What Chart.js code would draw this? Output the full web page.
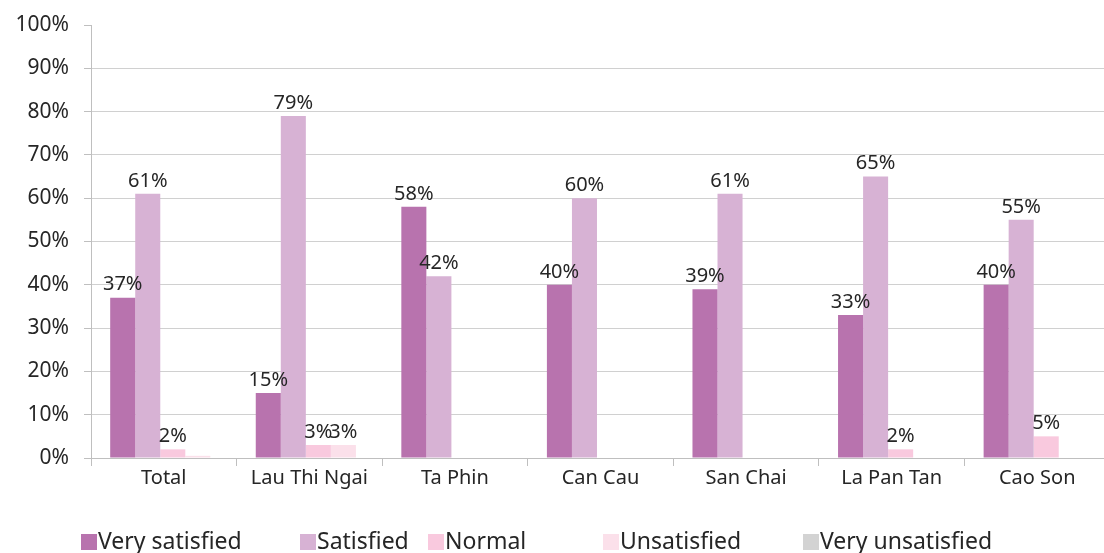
<!DOCTYPE html>
<html>
<head>
<meta charset="utf-8">
<script src="https://cdn.jsdelivr.net/npm/chart.js@4/dist/chart.umd.min.js"></script>
<style>
  html, body { margin: 0; padding: 0; background: #fff; overflow: hidden; }
  body { width: 1104px; height: 553px; position: relative; font-family: "Noto Sans", sans-serif; }
  #wrap { position: absolute; left: 0; top: 0; width: 1112px; height: 553px; }
  .leg { position: absolute; top: 528px; font-size: 23px; color: #262626; white-space: nowrap; line-height: 25px; }
  .leg span { display: inline-block; width: 16px; height: 16px; margin-right: 1px; vertical-align: -1px; }
</style>
</head>
<body>
<div id="wrap"><canvas id="satChart" width="1112" height="553"></canvas></div>
<div id="legend"></div>
<script>
const communes = ["Total", "Lau Thi Ngai", "Ta Phin", "Can Cau", "San Chai", "La Pan Tan", "Cao Son"];
const verySatisfied = [37, 15, 58, 40, 39, 33, 40];
const satisfied = [61, 79, 42, 60, 61, 65, 55];
const normal = [2, 3, 0, 0, 0, 2, 5];
const unsatisfied = [0.5, 3, 0, 0, 0, 0, 0];
const veryUnsatisfied = [0, 0, 0, 0, 0, 0, 0];
const yTicks = [0, 10, 20, 30, 40, 50, 60, 70, 80, 90, 100];

const seriesNames = ["Very satisfied", "Satisfied", "Normal", "Unsatisfied", "Very unsatisfied"];
const colors = ["#b873ae", "#d7b2d4", "#f9c9de", "#fbe0ea", "#d3d3d3"];
const legendLeft = [81, 300, 428, 603, 803];

const textColor = "#262626";
const fontFamily = "'Noto Sans', sans-serif";

// Excel draws the bar group a little right of the category centre
const groupShift = {
  id: "groupShift",
  afterDatasetsUpdate(chart) {
    chart.data.datasets.forEach((ds, i) => {
      chart.getDatasetMeta(i).data.forEach(bar => { bar.x += 9; });
    });
  }
};

// value labels above each bar
const barLabels = {
  id: "barLabels",
  afterDatasetsDraw(chart) {
    const ctx = chart.ctx;
    ctx.save();
    ctx.font = "20px " + fontFamily;
    ctx.fillStyle = textColor;
    ctx.textAlign = "center";
    ctx.textBaseline = "bottom";
    chart.data.datasets.forEach((ds, i) => {
      chart.getDatasetMeta(i).data.forEach((bar, j) => {
        const v = ds.data[j];
        if (v >= 1) ctx.fillText(Math.round(v) + "%", bar.x, bar.y - 3);
      });
    });
    ctx.restore();
  }
};

const allSeries = [verySatisfied, satisfied, normal, unsatisfied, veryUnsatisfied];

new Chart(document.getElementById("satChart"), {
  type: "bar",
  data: {
    labels: communes,
    datasets: allSeries.map((d, i) => ({
      label: seriesNames[i],
      data: d,
      backgroundColor: colors[i],
      borderWidth: 0,
      barPercentage: 1,
      categoryPercentage: 0.86
    }))
  },
  options: {
    responsive: false,
    animation: false,
    layout: { padding: { top: 25, right: 2, left: 0, bottom: 0 } },
    plugins: {
      legend: { display: false },
      tooltip: { enabled: false }
    },
    scales: {
      x: {
        grid: {
          offset: true,
          drawOnChartArea: false,
          tickLength: 8,
          color: "#bfbfbf"
        },
        border: { color: "#bfbfbf" },
        ticks: {
          color: textColor,
          font: { family: fontFamily, size: 20 },
          padding: 0,
          maxRotation: 0
        },
        afterFit(scale) { scale.height = 95; }
      },
      y: {
        min: 0,
        max: 100,
        afterBuildTicks(scale) { scale.ticks = yTicks.map(v => ({ value: v })); },
        grid: {
          color: ctx => (ctx.tick && ctx.tick.value === 100 ? "rgba(0,0,0,0)" : "#d0d0d0"),
          tickColor: "#bfbfbf",
          tickLength: 7
        },
        border: { color: "#bfbfbf" },
        ticks: {
          color: textColor,
          font: { family: fontFamily, size: 21 },
          padding: 15,
          callback: v => v + "%"
        },
        afterFit(scale) {
          scale.width = 91;
          scale.paddingTop = 0;
          scale.paddingBottom = 0;
        }
      }
    }
  },
  plugins: [groupShift, barLabels]
});

// legend with Excel-like spacing
const legendEl = document.getElementById("legend");
seriesNames.forEach((name, i) => {
  const item = document.createElement("div");
  item.className = "leg";
  item.style.left = legendLeft[i] + "px";
  item.innerHTML = '<span style="background:' + colors[i] + '"></span>' + name;
  legendEl.appendChild(item);
});
</script>
</body>
</html>
